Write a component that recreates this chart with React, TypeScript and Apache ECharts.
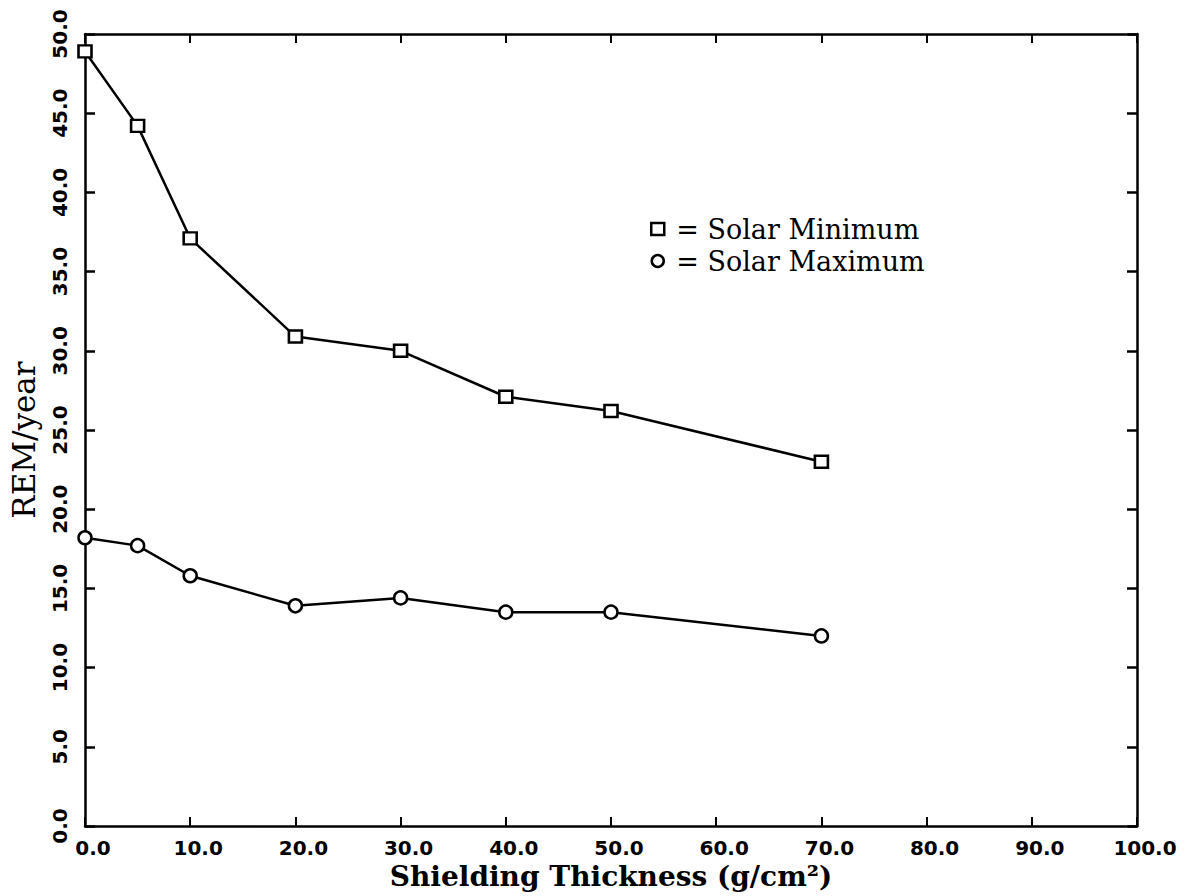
import React, { useEffect, useRef } from "react";
import * as echarts from "echarts";

const thickness = [0, 5, 10, 20, 30, 40, 50, 70];
const solarMinimum = [48.9, 44.2, 37.1, 30.9, 30.0, 27.1, 26.2, 23.0];
const solarMaximum = [18.2, 17.7, 15.8, 13.9, 14.4, 13.5, 13.5, 12.0];
const seriesNames = ["Solar Minimum", "Solar Maximum"];
const xTitle = "Shielding Thickness (g/cm²)";
const yTitle = "REM/year";

const tickFont = "DejaVu Sans";
const serif = "DejaVu Serif";

export default function App() {
  const ref = useRef<HTMLDivElement>(null);
  useEffect(() => {
    if (!ref.current) return;
    const chart = echarts.init(ref.current, undefined, { renderer: "svg" });
    const axisLine = { show: true, onZero: false, lineStyle: { color: "#000", width: 2.5 } };
    const fmt = (v: number) => v.toFixed(1);
    const xBase = {
      type: "value",
      min: 0,
      max: 100,
      interval: 10,
      splitLine: { show: false },
      axisLine,
      axisTick: { show: true, inside: true, length: 9, lineStyle: { color: "#000", width: 2 } },
    };
    const yBase = {
      type: "value",
      min: 0,
      max: 50,
      interval: 5,
      splitLine: { show: false },
      axisLine,
      axisTick: { show: true, inside: true, length: 10, lineStyle: { color: "#000", width: 2.5 } },
    };
    const symbolStyle = { color: "#fff", borderColor: "#000", borderWidth: 2.5 };
    chart.setOption({
      animation: false,
      backgroundColor: "#fff",
      grid: { left: 82, right: 52, top: 34, bottom: 70, containLabel: false },
      legend: {
        show: true,
        orient: "vertical",
        left: 645,
        top: 208,
        itemGap: 0,
        itemWidth: 13,
        itemHeight: 12,
        selectedMode: false,
        formatter: (name: string) => "= " + name,
        textStyle: {
          fontFamily: serif,
          fontSize: 27,
          color: "#000",
          lineHeight: 32,
          padding: [0, 0, 0, 7],
        },
        data: [
          { name: seriesNames[0], icon: "rect", itemStyle: symbolStyle },
          { name: seriesNames[1], icon: "circle", itemStyle: symbolStyle },
        ],
      },
      xAxis: [
        {
          ...xBase,
          position: "bottom",
          name: xTitle,
          nameLocation: "middle",
          nameGap: 36,
          nameTextStyle: {
            fontFamily: serif,
            fontWeight: "bold",
            fontSize: 28,
            color: "#000",
          },
          axisLabel: {
            show: true,
            margin: 12,
            formatter: fmt,
            fontFamily: tickFont,
            fontWeight: "bold",
            fontSize: 20,
            color: "#000",
            padding: [0, 0, 0, 16],
          },
        },
        {
          ...xBase,
          position: "top",
          axisLabel: { show: false },
        },
      ],
      yAxis: [
        {
          ...yBase,
          position: "left",
          name: yTitle,
          nameLocation: "middle",
          nameGap: 46,
          nameRotate: 90,
          nameTextStyle: {
            fontFamily: serif,
            fontSize: 31,
            color: "#000",
            padding: [0, 20, 0, 0],
          },
          axisLabel: {
            show: true,
            rotate: 90,
            margin: 15,
            formatter: fmt,
            fontFamily: tickFont,
            fontWeight: "bold",
            fontSize: 20,
            color: "#000",
          },
        },
        {
          ...yBase,
          position: "right",
          axisLabel: { show: false },
        },
      ],
      series: [
        {
          name: seriesNames[0],
          type: "line",
          data: thickness.map((x, i) => [x, solarMinimum[i]]),
          symbol: "rect",
          symbolSize: [13, 12],
          showAllSymbol: true,
          lineStyle: { color: "#000", width: 2.5 },
          itemStyle: symbolStyle,
        },
        {
          name: seriesNames[1],
          type: "line",
          data: thickness.map((x, i) => [x, solarMaximum[i]]),
          symbol: "circle",
          symbolSize: 13,
          showAllSymbol: true,
          lineStyle: { color: "#000", width: 2.5 },
          itemStyle: symbolStyle,
        },
      ],
    });
    return () => chart.dispose();
  }, []);
  return (
    <div
      ref={ref}
      style={{ position: "fixed", left: 0, top: 0, width: 1189, height: 896, background: "#fff" }}
    />
  );
}
